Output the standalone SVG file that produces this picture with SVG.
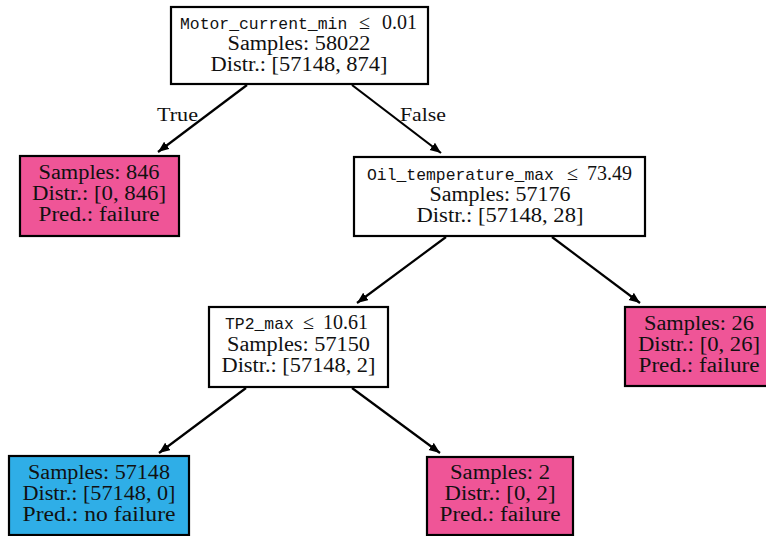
<svg xmlns="http://www.w3.org/2000/svg" width="766" height="536" viewBox="0 0 766 536">
<defs>
<marker id="arrow" markerUnits="userSpaceOnUse" markerWidth="12" markerHeight="10" refX="11" refY="4.5" orient="auto">
<path d="M0,0 L11,4.5 L0,9 z" fill="#000"/>
</marker>
<style>
.box{stroke:#000;stroke-width:2.2}
.dec{fill:#fff}
.fail{fill:#EF5597}
.ok{fill:#2FAEE7}
.t{font-family:"Liberation Serif","Times New Roman",serif;font-size:20px;fill:#111;text-anchor:middle}
.h{font-family:"Liberation Serif","Times New Roman",serif;font-size:20px;fill:#111}
.m{font-family:"Liberation Mono","Courier New",monospace;font-size:16.4px}
.lbl{font-family:"Liberation Serif","Times New Roman",serif;font-size:18.5px;fill:#111}
.edge{stroke:#000;stroke-width:2.2;fill:none;marker-end:url(#arrow)}
</style>
</defs>
<rect width="766" height="536" fill="#fff"/>
<g id="connectors">
<line class="edge" x1="247" y1="85" x2="158" y2="152"/>
<line class="edge" x1="352" y1="85" x2="441" y2="153"/>
<line class="edge" x1="446" y1="237" x2="357" y2="303"/>
<line class="edge" x1="552" y1="237" x2="640" y2="303"/>
<line class="edge" x1="246" y1="388" x2="159" y2="453"/>
<line class="edge" x1="352" y1="388" x2="440" y2="453"/>
<text class="lbl" x="157" y="121" textLength="41" lengthAdjust="spacingAndGlyphs">True</text>
<text class="lbl" x="400" y="121" textLength="46" lengthAdjust="spacingAndGlyphs">False</text>
</g>
<g id="node0">
<rect class="box dec" x="171" y="7" width="257" height="77"/>
<text class="h" y="28.5"><tspan class="m" x="180">Motor_current_min</tspan><tspan x="359">≤</tspan><tspan x="382">0.01</tspan></text>
<text class="t" x="299" y="49.5" textLength="143" lengthAdjust="spacingAndGlyphs">Samples: 58022</text>
<text class="t" x="299" y="70.5" textLength="177" lengthAdjust="spacingAndGlyphs">Distr.: [57148, 874]</text>
</g>
<g id="node1">
<rect class="box fail" x="20" y="156" width="159" height="80"/>
<text class="t" x="99" y="179" textLength="121" lengthAdjust="spacingAndGlyphs">Samples: 846</text>
<text class="t" x="99" y="200" textLength="134" lengthAdjust="spacingAndGlyphs">Distr.: [0, 846]</text>
<text class="t" x="99" y="221" textLength="121" lengthAdjust="spacingAndGlyphs">Pred.: failure</text>
</g>
<g id="node2">
<rect class="box dec" x="354" y="157" width="291" height="79"/>
<text class="h" y="179.5"><tspan class="m" x="367">Oil_temperature_max</tspan><tspan x="567">≤</tspan><tspan x="587">73.49</tspan></text>
<text class="t" x="500" y="200.5" textLength="141" lengthAdjust="spacingAndGlyphs">Samples: 57176</text>
<text class="t" x="500" y="221.5" textLength="167" lengthAdjust="spacingAndGlyphs">Distr.: [57148, 28]</text>
</g>
<g id="node3">
<rect class="box dec" x="209" y="307" width="179" height="80"/>
<text class="h" y="329"><tspan class="m" x="225">TP2_max</tspan><tspan x="303">≤</tspan><tspan x="323">10.61</tspan></text>
<text class="t" x="298.5" y="351" textLength="143" lengthAdjust="spacingAndGlyphs">Samples: 57150</text>
<text class="t" x="298.5" y="372" textLength="154" lengthAdjust="spacingAndGlyphs">Distr.: [57148, 2]</text>
</g>
<g id="node4">
<rect class="box fail" x="625" y="307" width="148" height="79"/>
<text class="t" x="699" y="329.5" textLength="110" lengthAdjust="spacingAndGlyphs">Samples: 26</text>
<text class="t" x="699" y="350.5" textLength="122" lengthAdjust="spacingAndGlyphs">Distr.: [0, 26]</text>
<text class="t" x="699" y="371.5" textLength="121" lengthAdjust="spacingAndGlyphs">Pred.: failure</text>
</g>
<g id="node5">
<rect class="box ok" x="9" y="456" width="180" height="79"/>
<text class="t" x="99" y="478.5" textLength="142" lengthAdjust="spacingAndGlyphs">Samples: 57148</text>
<text class="t" x="99" y="499.5" textLength="153" lengthAdjust="spacingAndGlyphs">Distr.: [57148, 0]</text>
<text class="t" x="99" y="520.5" textLength="153" lengthAdjust="spacingAndGlyphs">Pred.: no failure</text>
</g>
<g id="node6">
<rect class="box fail" x="427" y="457" width="146" height="78"/>
<text class="t" x="500" y="479" textLength="100" lengthAdjust="spacingAndGlyphs">Samples: 2</text>
<text class="t" x="500" y="500" textLength="111" lengthAdjust="spacingAndGlyphs">Distr.: [0, 2]</text>
<text class="t" x="500" y="521" textLength="121" lengthAdjust="spacingAndGlyphs">Pred.: failure</text>
</g>
</svg>
